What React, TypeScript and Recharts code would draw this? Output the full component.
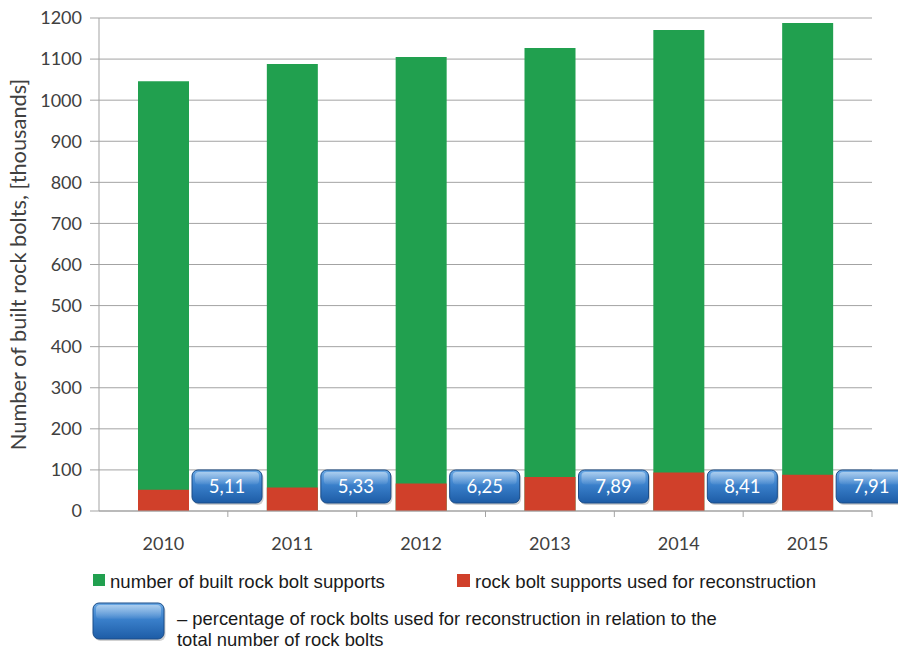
import React from 'react';
import { BarChart, Bar, XAxis, YAxis, CartesianGrid, LabelList, Label } from 'recharts';

const years = ['2010', '2011', '2012', '2013', '2014', '2015'];
const builtSupports = [1046, 1088, 1105, 1127, 1171, 1188];
const reconstructionSupports = [52, 57, 67, 83, 94, 88];
const reconstructionShare = [5.11, 5.33, 6.25, 7.89, 8.41, 7.91];
const yTicks = [0, 100, 200, 300, 400, 500, 600, 700, 800, 900, 1000, 1100, 1200];

const data = years.map((year, i) => ({
  year,
  built: builtSupports[i],
  reconstruction: reconstructionSupports[i],
  share: reconstructionShare[i],
}));

const GREEN = '#21a04f';
const RED = '#d0402a';
const GRID = '#a3a3a3';
const TICK_FONT = 'Lato, "Open Sans", sans-serif';
const LEGEND_FONT = '"Liberation Sans", Arial, sans-serif';

// blue rounded "pill" used for the percentage labels and in the legend
const Badge = ({ x, y, w, h, text, id }: { x: number; y: number; w: number; h: number; text?: string; id: string }) => (
  <g>
    <defs>
      <linearGradient id={`${id}-fill`} x1="0" y1="0" x2="0" y2="1">
        <stop offset="0%" stopColor="#6aa8e4" />
        <stop offset="45%" stopColor="#3a80cb" />
        <stop offset="100%" stopColor="#1d5ca6" />
      </linearGradient>
      <linearGradient id={`${id}-gloss`} x1="0" y1="0" x2="0" y2="1">
        <stop offset="0%" stopColor="#ffffff" stopOpacity={0.45} />
        <stop offset="100%" stopColor="#ffffff" stopOpacity={0.05} />
      </linearGradient>
    </defs>
    <rect x={x + 1.5} y={y + 2} width={w} height={h} rx={6} fill="rgba(0,0,0,0.18)" />
    <rect x={x} y={y} width={w} height={h} rx={6} fill={`url(#${id}-fill)`} stroke="#1b4d88" strokeWidth={1} />
    <rect x={x + 3} y={y + 2} width={w - 6} height={h * 0.38} rx={4} fill={`url(#${id}-gloss)`} />
    {text && (
      <text
        x={x + w / 2}
        y={y + h / 2 + 6.5}
        textAnchor="middle"
        fill="#ffffff"
        fontFamily={TICK_FONT}
        fontSize={18.5}
      >
        {text}
      </text>
    )}
  </g>
);

const renderShareBadge = (props: any) => {
  const vb = props.viewBox || props;
  const { x, y, width, height } = vb;
  const bottom = y + height;
  const text = Number(props.value).toFixed(2).replace('.', ',');
  return <Badge x={x + width + 3} y={bottom - 41} w={70} h={33} text={text} id={`badge-${props.index}`} />;
};

const YearTick = (props: any) => {
  const { x, y, payload } = props;
  const half = payload.offset ?? 64.5;
  const axisY = y - 8;
  return (
    <g>
      <line x1={x + half} y1={axisY} x2={x + half} y2={axisY + 6} stroke={GRID} />
      <text x={x} y={y + 31} textAnchor="middle" fill="#404040" fontFamily={TICK_FONT} fontSize={18}>
        {payload.value}
      </text>
    </g>
  );
};

const App: React.FC = () => {
  return (
    <div style={{ position: 'absolute', left: 0, top: 0, width: 898, height: 650, background: '#fff', overflow: 'hidden' }}>
      <BarChart
        width={898}
        height={560}
        data={data}
        margin={{ top: 18, right: 26, left: 0, bottom: 0 }}
        barGap={-51}
        barCategoryGap={0}
      >
        <CartesianGrid vertical={false} stroke={GRID} />
        <XAxis
          dataKey="year"
          height={49}
          tickLine={false}
          tickSize={6}
          tickMargin={2}
          axisLine={{ stroke: GRID }}
          tick={<YearTick />}
          interval={0}
        />
        <YAxis
          width={99}
          domain={[0, 1200]}
          ticks={yTicks}
          interval={0}
          tickSize={9}
          tickMargin={8}
          tickLine={{ stroke: GRID }}
          axisLine={{ stroke: GRID }}
          tick={{ fill: '#404040', fontFamily: TICK_FONT, fontSize: 18 }}
        >
          <Label
            content={({ viewBox }: any) => (
              <text
                transform={`translate(${viewBox.x + 26},${viewBox.y + viewBox.height / 2}) rotate(-90)`}
                textAnchor="middle"
                fill="#404040"
                fontFamily={TICK_FONT}
                fontSize={21.8}
              >
                Number of built rock bolts, [thousands]
              </text>
            )}
          />
        </YAxis>
        <Bar dataKey="built" fill={GREEN} barSize={51} isAnimationActive={false} />
        <Bar dataKey="reconstruction" fill={RED} barSize={51} isAnimationActive={false}>
          <LabelList dataKey="share" content={renderShareBadge} />
        </Bar>
      </BarChart>

      <svg width={898} height={90} style={{ position: 'absolute', left: 0, top: 560 }}>
        <rect x={93} y={14} width={12} height={12} fill={GREEN} />
        <text x={110} y={28} fontFamily={LEGEND_FONT} fontSize={18.6} fill="#1a1a1a">
          number of built rock bolt supports
        </text>
        <rect x={457} y={14} width={13} height={13} fill={RED} />
        <text x={475} y={28} fontFamily={LEGEND_FONT} fontSize={18.6} fill="#1a1a1a">
          rock bolt supports used for reconstruction
        </text>
        <Badge x={93} y={43} w={71} h={36} id="legend-badge" />
        <text fontFamily={LEGEND_FONT} fontSize={18.4} fill="#1a1a1a">
          <tspan x={177} y={65}>
            – percentage of rock bolts used for reconstruction in relation to the
          </tspan>
          <tspan x={177} y={86}>
            total number of rock bolts
          </tspan>
        </text>
      </svg>
    </div>
  );
};

export default App;
